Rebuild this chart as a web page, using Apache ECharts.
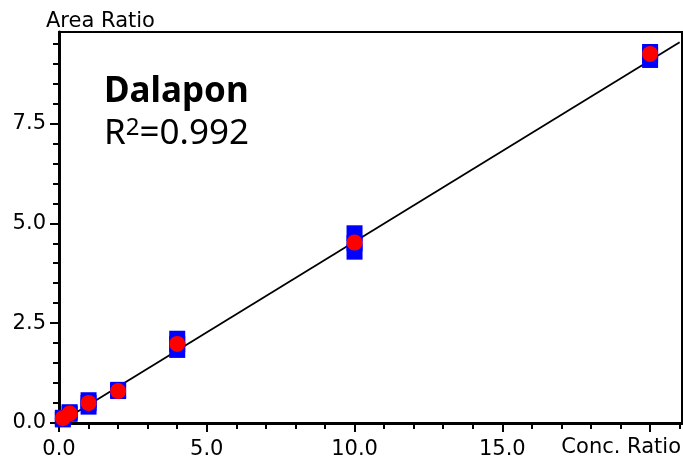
<!DOCTYPE html>
<html>
<head>
<meta charset="utf-8">
<script src="https://cdn.jsdelivr.net/npm/echarts@6/dist/echarts.min.js"></script>
<style>
  html, body { margin: 0; padding: 0; background: #fff; }
  #chart { width: 683px; height: 457px; }
</style>
</head>
<body>
<div id="chart"></div>
<script>
// Calibration levels (concentration ratio)
const concLevels = [0.13, 0.36, 1, 2, 4, 10, 20];
// Replicate area ratios measured at each level
const replicates = [
  [0.09, 0.13],
  [0.23, 0.27],
  [0.41, 0.50, 0.57],
  [0.80, 0.83],
  [1.83, 1.98, 2.11],
  [4.29, 4.50, 4.75],
  [9.09, 9.22, 9.29]
];
// Mean area ratio at each level
const meanRatios = [0.12, 0.24, 0.50, 0.80, 1.98, 4.52, 9.24];
// Linear calibration fit
const fitSlope = 0.454;
const fitIntercept = 0.0;
const fitRange = [0, 21];
// Axis ticks and labels
const xMajorTicks = [0, 5, 10, 15, 20];
const xTickLabels = ['0.0', '5.0', '10.0', '15.0', ''];
const xMinorTicks = [1, 2, 3, 4, 6, 7, 8, 9, 11, 12, 13, 14, 16, 17, 18, 19, 21];
const yMajorTicks = [0, 2.5, 5, 7.5];
const yTickLabels = ['0.0', '2.5', '5.0', '7.5'];
const yMinorTicks = [0.5, 1, 1.5, 2, 3, 3.5, 4, 4.5, 5.5, 6, 6.5, 7, 8, 8.5, 9, 9.5];
const compoundName = 'Dalapon';
const rSquared = '0.992';
const xTitle = 'Conc. Ratio';
const yTitle = 'Area Ratio';

const X_MAX = 21.08;
const Y_MAX = 9.79;
const labelFont = 'DejaVu Sans';
const labelSize = 21;

function labelFrom(ticks, labels) {
  return function (v) {
    const i = ticks.findIndex(t => Math.abs(t - v) < 1e-6);
    return i >= 0 ? labels[i] : '';
  };
}

const replicatePoints = [];
concLevels.forEach((c, i) => replicates[i].forEach(r => replicatePoints.push([c, r])));
const meanPoints = concLevels.map((c, i) => [c, meanRatios[i]]);
const fitPoints = fitRange.map(x => [x, fitIntercept + fitSlope * x]);

function majorAxis(max, ticks, labels, extra) {
  return Object.assign({
    type: 'value', min: 0, max: max,
    axisLine: { show: true, onZero: false, lineStyle: { color: '#000', width: 3 } },
    axisTick: { show: true, customValues: ticks, length: 9, lineStyle: { color: '#000', width: 2 } },
    axisLabel: {
      customValues: ticks.filter((t, i) => labels[i] !== ''),
      formatter: labelFrom(ticks, labels),
      color: '#000', fontSize: labelSize, fontFamily: labelFont
    },
    splitLine: { show: false }
  }, extra);
}
function minorAxis(max, ticks, extra) {
  return Object.assign({
    type: 'value', min: 0, max: max,
    axisLine: { show: false },
    axisTick: { show: true, customValues: ticks, length: 6, lineStyle: { color: '#000', width: 2 } },
    axisLabel: { show: false },
    splitLine: { show: false }
  }, extra);
}

const xMajor = majorAxis(X_MAX, xMajorTicks, xTickLabels, { position: 'bottom' });
xMajor.axisLabel.margin = 16;
const yMajor = majorAxis(Y_MAX, yMajorTicks, yTickLabels, { position: 'left' });
yMajor.axisLabel.margin = 13;

const chart = echarts.init(document.getElementById('chart'), null, { renderer: 'canvas' });
chart.setOption({
  animation: false,
  backgroundColor: '#fff',
  grid: {
    left: 59, right: 1, top: 32, bottom: 34,
    containLabel: false, outerBoundsMode: 'none',
    show: true, borderColor: '#000', borderWidth: 2, backgroundColor: 'transparent'
  },
  xAxis: [xMajor, minorAxis(X_MAX, xMinorTicks, { position: 'bottom' })],
  yAxis: [yMajor, minorAxis(Y_MAX, yMinorTicks, { position: 'left' })],
  series: [
    {
      type: 'line', data: fitPoints, showSymbol: false, symbol: 'none',
      lineStyle: { color: '#000', width: 1.8 }, z: 2, silent: true
    },
    {
      type: 'scatter', data: replicatePoints, symbol: 'rect', symbolSize: 16,
      itemStyle: { color: '#0000ff', opacity: 1 }, z: 3
    },
    {
      type: 'scatter', data: meanPoints, symbol: 'circle', symbolSize: 16,
      itemStyle: { color: '#ff0000', opacity: 1 }, z: 4
    }
  ],
  graphic: [
    {
      type: 'text', x: 46, y: 22,
      style: { text: yTitle, fontSize: labelSize, fontFamily: labelFont, fill: '#000', verticalAlign: 'middle' }
    },
    {
      type: 'text', x: 681, y: 448,
      style: { text: xTitle, fontSize: labelSize, fontFamily: labelFont, fill: '#000', align: 'right', verticalAlign: 'middle' }
    },
    {
      type: 'text', x: 104, y: 92,
      style: { text: compoundName, fontSize: 35, fontWeight: 'bold', fontFamily: 'Noto Sans', fill: '#000', verticalAlign: 'middle' }
    },
    {
      type: 'text', x: 104, y: 134,
      style: {
        text: '{m|R}{s|2}{m|=' + rSquared + '}',
        verticalAlign: 'middle',
        rich: {
          m: { fontSize: 35, fontFamily: 'Noto Sans', fill: '#000' },
          s: { fontSize: 24, fontFamily: 'Noto Sans', fill: '#000', verticalAlign: 'top' }
        }
      }
    }
  ]
});
</script>
</body>
</html>
